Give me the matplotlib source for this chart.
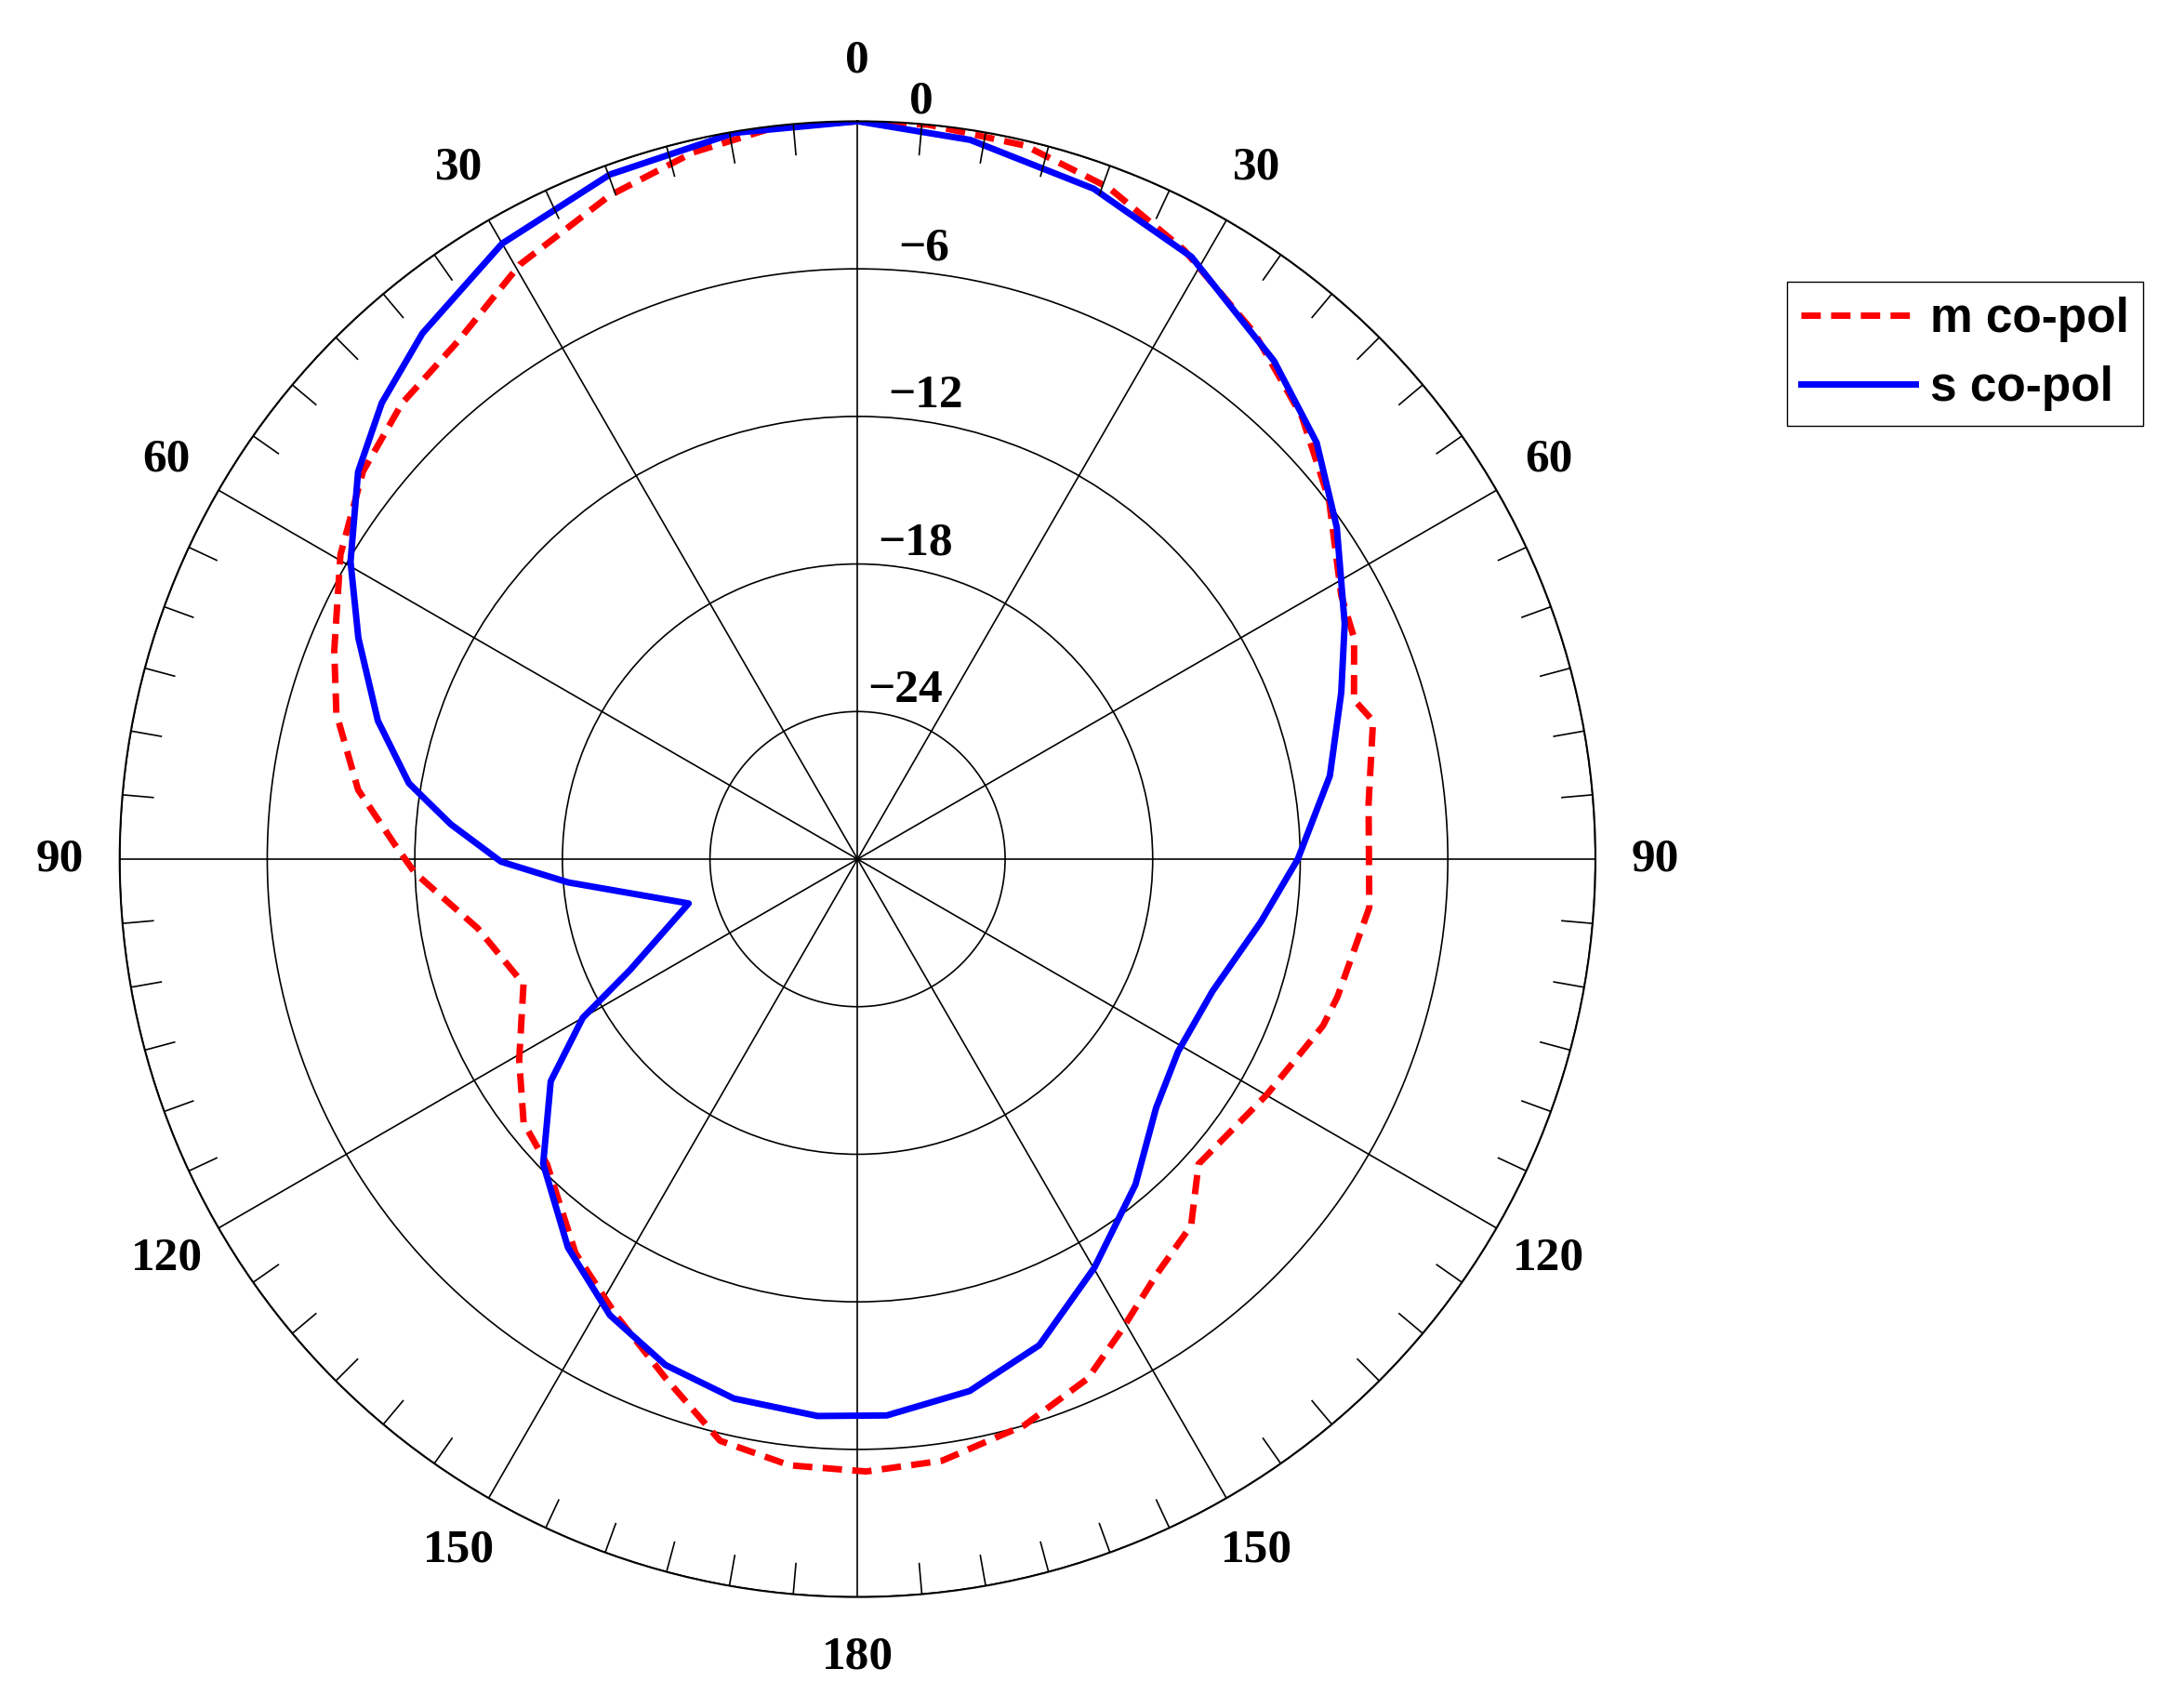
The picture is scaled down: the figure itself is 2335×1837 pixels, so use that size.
import numpy as np
import matplotlib
matplotlib.use('Agg')
import matplotlib.pyplot as plt

# angulos (grados, sentido horario desde arriba) y nivel (dB)
m_ang = [0, 5.5, 13.2, 20.5, 28.2, 37, 45.1, 52.7, 61.4, 66, 72.2, 75, 83.8, 95.4, 106, 109.7,
         119.9, 125.7, 131.8, 137.7, 144.2, 150.7, 156.1, 163.6, 172, 179.2, 186.4, 193.3,
         200.3, 207.8, 215.6, 225.5, 231.7, 239.3, 249.5, 259.7, 268.2, 271.7, 277.9, 285.6,
         291.7, 300.5, 308.1, 315, 322.4, 330.4, 339.5, 346.9, 353.6, 360]
m_db = [0, 0, -0.2, -0.85, -1.9, -3.2, -4.5, -5.9, -7.6, -7.9, -8.8, -8.3, -9.1, -9.1, -9.7, -9.9,
        -10.8, -11.2, -11.4, -9.85, -9.2, -8.05, -6.9, -6.0, -5.3, -5.1, -5.2, -5.7,
        -7.5, -9.0, -10.3, -12.3, -12.7, -14.0, -15.5, -14.3, -12.0, -11.2, -9.5, -8.0,
        -7.1, -5.6, -4.45, -3.8, -3.4, -2.2, -1.2, -0.5, -0.05, 0]

s_ang = [0, 8.9, 19.4, 29, 39.9, 47.8, 55.3, 64.2, 71, 80, 90, 98.8, 110.4, 121, 129.8, 139.5,
         149.9, 159.5, 168.1, 177, 184.1, 192.9, 200.8, 208.5, 216.7, 225.9, 234.1, 240, 244,
         255.3, 265.4, 269.6, 274.9, 279.6, 286.1, 293.9, 300.4, 307.8, 313.8, 320.4, 330,
         340.1, 350.4, 360]
s_db = [0, -0.4, -1.1, -2.0, -3.6, -4.8, -6.3, -8.0, -9.2, -10.5, -12.1, -13.4, -14.6, -14.8, -14.2, -12.6,
        -10.8, -8.9, -7.9, -7.35, -7.3, -7.5, -8.0, -8.9, -10.3, -12.2, -14.6, -17.1, -19.7,
        -22.9, -18.2, -15.5, -13.4, -11.5, -9.7, -7.8, -6.1, -4.3, -3.2, -2.25, -1.1,
        -0.4, -0.05, 0]

theta_labels = ['0', '30', '60', '90', '120', '150', '180', '150', '120', '90', '60', '30']
r_ticks = [-24, -18, -12, -6, 0]
r_labels = ['\u221224', '\u221218', '\u221212', '\u22126', '0']

fig = plt.figure(figsize=(23.35, 18.37), dpi=100)
ax = fig.add_axes([0.055, 0.065, 0.68, 0.864], projection='polar')
ax.set_theta_zero_location('N')
ax.set_theta_direction(-1)
ax.set_ylim(-30, 0)

ax.plot(np.radians(m_ang), m_db, '--', color='red', lw=5, dashes=(3, 1.6), label='m co-pol')
ax.plot(np.radians(s_ang), s_db, '-', color='blue', lw=5, label='s co-pol')

ax.set_thetagrids(np.arange(0, 360, 30), theta_labels,
                  fontsize=37, fontweight='bold', family='Liberation Serif')
ax.tick_params(axis='x', pad=36)
ax.set_rgrids(r_ticks, r_labels, angle=4, fontsize=37, fontweight='bold',
              family='Liberation Serif', va='bottom', ha='left')
ax.grid(True, color='black', lw=1.2)
ax.spines['polar'].set_linewidth(1.5)

# marcas menores cada 5 grados
for a in np.arange(0, 360, 5):
    if a % 30 != 0:
        ax.plot([np.radians(a)] * 2, [-1.25, 0], color='black', lw=1.2)

ax.legend(loc='upper left', bbox_to_anchor=(0.823, 0.835), bbox_transform=fig.transFigure,
          fancybox=False, edgecolor='black', framealpha=1, handlelength=2.4,
          prop={'family': 'Liberation Sans', 'weight': 'bold', 'size': 37},
          borderaxespad=0, borderpad=0.3, labelspacing=0.5, handletextpad=0.3)

fig.savefig('out.png', dpi=100)
